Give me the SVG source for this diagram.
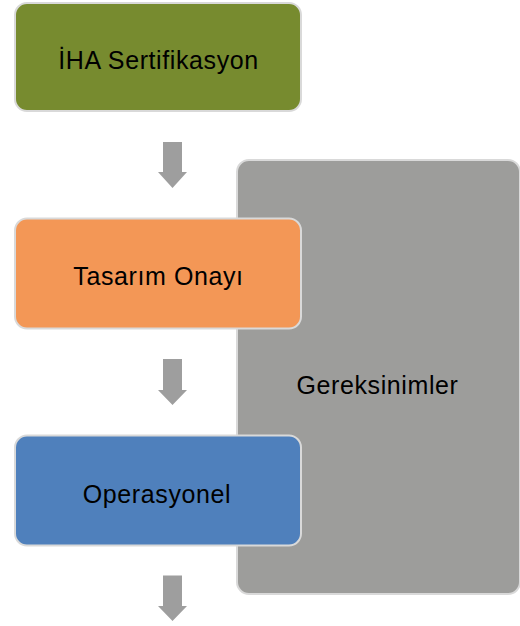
<svg xmlns="http://www.w3.org/2000/svg" width="520" height="626" viewBox="0 0 520 626">
  <style>
    .box { stroke: #d9d9d9; stroke-width: 2; }
    .lbl { font-family: "Liberation Sans", Arial, Helvetica, sans-serif; font-size: 25px; letter-spacing: 0.6px; fill: #000; text-anchor: middle; }
    .arrow { fill: #9e9e9e; }
  </style>
  <rect width="520" height="626" fill="#ffffff"/>
  <g id="node-gereksinimler">
    <rect class="box" x="237" y="160" width="283" height="434" rx="12" fill="#9d9d9b"/>
    <text class="lbl" x="377.5" y="394">Gereksinimler</text>
  </g>
  <g id="node-iha">
    <rect class="box" x="15" y="3" width="286" height="108" rx="12" fill="#778b2f"/>
    <text class="lbl" x="158.5" y="68.5">İHA Sertifikasyon</text>
  </g>
  <g id="node-tasarim">
    <rect class="box" x="15" y="218.5" width="286" height="110" rx="12" fill="#f39756"/>
    <text class="lbl" x="158.5" y="285">Tasarım Onayı</text>
  </g>
  <g id="node-operasyonel">
    <rect class="box" x="15" y="435.5" width="286" height="110" rx="12" fill="#4f80bc"/>
    <text class="lbl" x="157" y="503">Operasyonel</text>
  </g>
  <g id="connectors">
    <polygon class="arrow" points="163,142 182,142 182,172 187,172 172.5,188 158,172 163,172"/>
    <polygon class="arrow" points="163,359 182,359 182,390 187,390 172.5,405 158,390 163,390"/>
    <polygon class="arrow" points="163,575.5 182,575.5 182,606 187,606 172.5,621 158,606 163,606"/>
  </g>
</svg>
